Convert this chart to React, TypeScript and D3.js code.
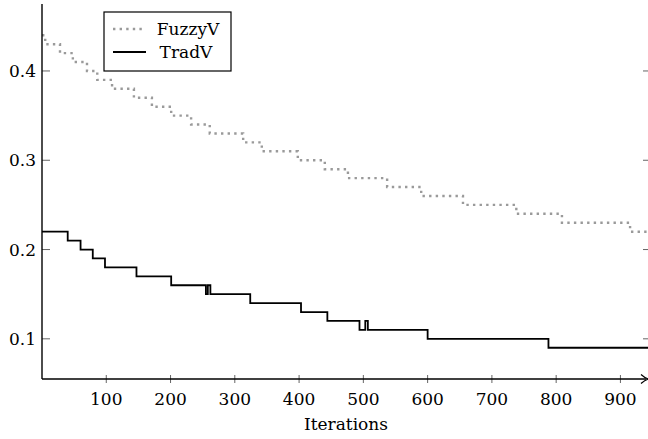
import React from 'react';
import * as d3 from 'd3';

// step data: [iteration, value], each value holds until the next iteration
const fuzzyIters = [0, 5, 28, 48, 70, 86, 109, 143, 171, 201, 232, 261, 313, 342, 398, 440, 476, 537, 590, 655, 738, 809, 915, 946];
const fuzzyVals = [0.44, 0.43, 0.42, 0.41, 0.40, 0.39, 0.38, 0.37, 0.36, 0.35, 0.34, 0.33, 0.32, 0.31, 0.30, 0.29, 0.28, 0.27, 0.26, 0.25, 0.24, 0.23, 0.22, 0.22];

const tradIters = [0, 40, 60, 79, 98, 147, 201, 255, 258, 262, 324, 403, 444, 494, 503, 507, 600, 788, 946];
const tradVals = [0.22, 0.21, 0.20, 0.19, 0.18, 0.17, 0.16, 0.15, 0.16, 0.15, 0.14, 0.13, 0.12, 0.11, 0.12, 0.11, 0.10, 0.09, 0.09];

const xTicks = [100, 200, 300, 400, 500, 600, 700, 800, 900];
const yTicks = [0.1, 0.2, 0.3, 0.4];
const yTickLabels = ['0.1', '0.2', '0.3', '0.4'];

const W = 648;
const H = 439;
const left = 42;
const right = 650;
const bottom = 379;
const top = 4;
const textStyle = { fontFamily: "'DejaVu Serif', 'Liberation Serif', serif", fontSize: '17px' };

export default function App() {
  const x = d3.scaleLinear().domain([0, 946]).range([left, right]);
  const y = d3.scaleLinear().domain([0.055, 0.475]).range([bottom, top]);

  const step = d3.line<[number, number]>()
    .x(d => x(d[0]))
    .y(d => y(d[1]))
    .curve(d3.curveStepAfter);

  const fuzzyPath = step(fuzzyIters.map((it, i) => [it, fuzzyVals[i]] as [number, number]));
  const tradPath = step(tradIters.map((it, i) => [it, tradVals[i]] as [number, number]));

  return (
    <svg width={W} height={H} style={{ position: 'absolute', left: 0, top: 0 }}>
      <rect width={W} height={H} fill="white" />

      {/* data */}
      <path d={fuzzyPath || ''} fill="none" stroke="#9a9a9a" strokeWidth={2.4} strokeDasharray="2.4 4.2" />
      <path d={tradPath || ''} fill="none" stroke="#000" strokeWidth={1.8} />

      {/* y ticks */}
      {yTicks.map((t, i) => (
        <g key={t}>
          <line x1={left} x2={left + 8} y1={y(t)} y2={y(t)} stroke="#222" strokeWidth={0.7} />
          <line x1={W - 5} x2={W} y1={y(t)} y2={y(t)} stroke="#222" strokeWidth={0.7} />
          <text x={36} y={y(t) + 6} textAnchor="end" style={textStyle}>{yTickLabels[i]}</text>
        </g>
      ))}

      {/* x ticks */}
      {xTicks.map(t => (
        <g key={t}>
          <line x1={x(t)} x2={x(t)} y1={bottom - 4} y2={bottom + 4} stroke="#222" strokeWidth={0.7} />
          <text x={x(t)} y={405} textAnchor="middle" style={textStyle}>{t}</text>
        </g>
      ))}

      {/* axes */}
      <line x1={left} x2={left} y1={top} y2={bottom} stroke="#000" strokeWidth={1.4} />
      <line x1={left} x2={646} y1={bottom} y2={bottom} stroke="#000" strokeWidth={1.4} />
      <path d={`M641,${bottom - 4.5} Q645,${bottom - 1} 648,${bottom} Q645,${bottom + 1} 641,${bottom + 4.5}`} fill="none" stroke="#000" strokeWidth={1.2} />

      <text x={(left + right) / 2} y={430} textAnchor="middle" style={textStyle}>Iterations</text>

      {/* legend */}
      <rect x={104} y={12} width={127} height={59} fill="white" stroke="#000" strokeWidth={1.2} />
      <line x1={113} x2={146} y1={29} y2={29} stroke="#9a9a9a" strokeWidth={2.4} strokeDasharray="2.4 4.2" />
      <text x={188} y={35} textAnchor="middle" style={textStyle}>FuzzyV</text>
      <line x1={113} x2={146} y1={52} y2={52} stroke="#000" strokeWidth={1.8} />
      <text x={186} y={58} textAnchor="middle" style={textStyle}>TradV</text>
    </svg>
  );
}
